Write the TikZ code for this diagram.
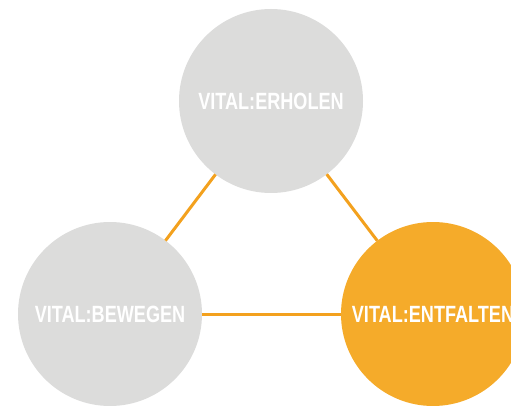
\documentclass[tikz,border=0pt]{standalone}
\usepackage{fontspec}
\setmainfont{Liberation Sans}
\newfontfamily\condfont[FakeStretch=0.77]{Liberation Sans}
\definecolor{circgray}{HTML}{DCDCDB}
\definecolor{vorange}{HTML}{F5AB2A}
\definecolor{lineorange}{HTML}{F3A11E}
\begin{document}
\begin{tikzpicture}[x=1pt,y=-1pt,
  bubble/.style={circle,inner sep=0pt,outer sep=0pt,minimum size=184pt,
    font=\condfont\bfseries\fontsize{23.5}{26}\selectfont,text=white},
  link/.style={draw=lineorange,line width=3pt}]
\useasboundingbox (0,0) rectangle (511,406);
\clip (0,0) rectangle (511,406);
\node[bubble,fill=circgray] (erholen) at (271,101) {VITAL:ERHOLEN};
\node[bubble,fill=circgray] (bewegen) at (110,314) {VITAL:BEWEGEN};
\node[bubble,fill=vorange] (entfalten) at (433,314) {VITAL:ENTFALTEN};
\draw[link] (erholen) -- (bewegen);
\draw[link] (erholen) -- (entfalten);
\draw[link] (bewegen) -- (entfalten);
\end{tikzpicture}
\end{document}
